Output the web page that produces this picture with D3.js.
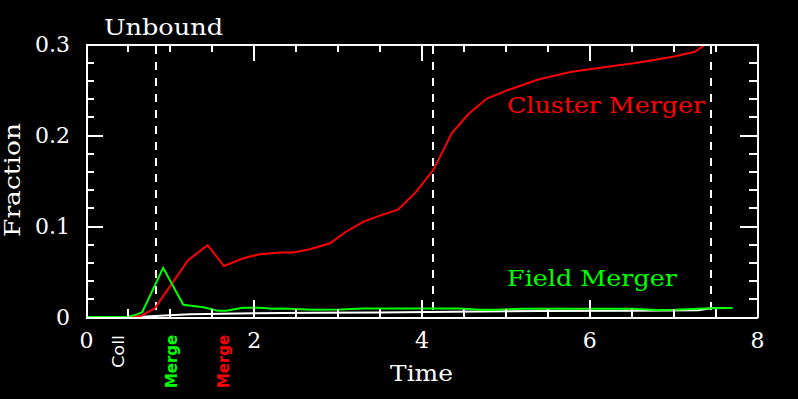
<!DOCTYPE html>
<html>
<head>
<meta charset="utf-8">
<script src="https://cdn.jsdelivr.net/npm/d3@7"></script>
<style>
  body { margin:0; background:#000; }
  text { fill:#fff; }
</style>
</head>
<body>
<div id="viz-container"></div>
<script>
// values
let xMajor = [0, 2, 4, 6, 8];
let yMajor = [0, 0.1, 0.2, 0.3];
let yTickLabels = ["0", "0.1", "0.2", "0.3"];

let redT = [0, 0.49, 0.66, 0.82, 1.22, 1.45, 1.645, 1.875, 2.07, 2.31, 2.47, 2.67, 2.91, 3.10, 3.31, 3.52, 3.72, 3.94, 4.14, 4.21, 4.36, 4.56, 4.78, 5.02, 5.39, 5.79, 6.13, 6.53, 7.0, 7.26, 7.39, 7.5];
let redV = [0, 0, 0.0014, 0.0096, 0.0626, 0.079, 0.056, 0.0645, 0.069, 0.071, 0.071, 0.0744, 0.081, 0.0937, 0.1048, 0.112, 0.118, 0.138, 0.1615, 0.174, 0.2018, 0.223, 0.240, 0.249, 0.261, 0.2696, 0.274, 0.2788, 0.286, 0.2915, 0.300, 0.31];

let greenT = [0, 0.49, 0.6, 0.67, 0.92, 1.16, 1.40, 1.57, 1.67, 1.87, 2.07, 2.23, 2.34, 2.7, 3.03, 3.3, 4.44, 4.7, 4.9, 5.2, 6.52, 6.8, 7.02, 7.45, 7.71];
let greenV = [0, 0, 0.0026, 0.0052, 0.054, 0.0135, 0.0107, 0.0069, 0.0069, 0.0102, 0.0102, 0.0091, 0.0093, 0.0080, 0.0082, 0.0094, 0.0094, 0.0080, 0.0080, 0.0090, 0.0091, 0.0078, 0.0080, 0.0095, 0.0098];

let whiteT = [0, 0.6, 1.0, 1.24, 1.63, 2.0, 2.7, 3.5, 4.37, 5.0, 5.41, 6.5, 7.3, 7.47, 7.68];
let whiteV = [0, 0, 0.002, 0.003, 0.0037, 0.004, 0.0047, 0.005, 0.0058, 0.0062, 0.0066, 0.007, 0.0073, 0.0099, 0.0099];

let markT = [0.83, 4.14, 7.45];

let eventT = [0.45, 1.085, 1.70];
let eventLabels = ["Coll", "Merge", "Merge"];
let eventColors = ["#ffffff", "#00ff00", "#ff0000"];

let W = 798, H = 399;
let mLeft = 86, mRight = 757, mTop = 44, mBottom = 317;

let svg = d3.select("#viz-container")
  .append("svg")
    .attr("width", W)
    .attr("height", H)
    .style("background", "#000")
    .style("display", "block");

let x = d3.scaleLinear().domain([0, 8]).range([mLeft, mRight]);
let y = d3.scaleLinear().domain([0, 0.3]).range([mBottom, mTop]);

svg.append("clipPath").attr("id", "plotclip")
  .append("rect")
    .attr("x", mLeft).attr("y", mTop)
    .attr("width", mRight - mLeft).attr("height", mBottom - mTop);

// dashed markers
svg.selectAll(".mark").data(markT).enter()
  .append("line")
    .attr("class", "mark")
    .attr("x1", d => x(d)).attr("x2", d => x(d))
    .attr("y1", mTop + 2).attr("y2", mBottom)
    .attr("stroke", "#fff")
    .attr("stroke-width", 2)
    .attr("stroke-dasharray", "8,8")
    .attr("shape-rendering", "crispEdges");

// series
function pts(T, V) { return T.map((t, i) => [t, V[i]]); }
let line = d3.line().x(d => x(d[0])).y(d => y(d[1]));

let series = [
  { p: pts(whiteT, whiteV), c: "#ffffff" },
  { p: pts(redT, redV), c: "#ff0000" },
  { p: pts(greenT, greenV), c: "#00ff00" }
];
svg.selectAll(".series").data(series).enter()
  .append("path")
    .attr("class", "series")
    .attr("clip-path", "url(#plotclip)")
    .attr("d", d => line(d.p))
    .attr("fill", "none")
    .attr("stroke", d => d.c)
    .attr("stroke-width", 2);

// axes
function styleAxis(g) {
  g.selectAll("path.domain").attr("stroke", "#fff").attr("stroke-width", 2).attr("shape-rendering", "crispEdges");
  g.selectAll(".tick line").attr("stroke", "#fff").attr("stroke-width", 2).attr("shape-rendering", "crispEdges");
  g.selectAll(".tick text")
    .attr("fill", "#fff")
    .style("font-family", "DejaVu Serif")
    .style("font-size", "22px");
}

svg.append("g").attr("transform", `translate(0,${mBottom})`)
  .call(d3.axisBottom(x).ticks(16).tickSize(-8).tickSizeOuter(0).tickFormat(""))
  .call(styleAxis);
svg.append("g").attr("transform", `translate(0,${mBottom})`)
  .call(d3.axisBottom(x).tickValues(xMajor).tickSize(-17).tickSizeOuter(0).tickPadding(15).tickFormat(d3.format("d")))
  .call(styleAxis);
svg.append("g").attr("transform", `translate(0,${mTop})`)
  .call(d3.axisTop(x).ticks(16).tickSize(-8).tickSizeOuter(0).tickFormat(""))
  .call(styleAxis);
svg.append("g").attr("transform", `translate(0,${mTop})`)
  .call(d3.axisTop(x).tickValues(xMajor).tickSize(-17).tickSizeOuter(0).tickFormat(""))
  .call(styleAxis);

svg.append("g").attr("transform", `translate(${mLeft},0)`)
  .call(d3.axisLeft(y).ticks(15).tickSize(-8).tickSizeOuter(0).tickFormat(""))
  .call(styleAxis);
svg.append("g").attr("transform", `translate(${mLeft},0)`)
  .call(d3.axisLeft(y).tickValues(yMajor).tickSize(-17).tickSizeOuter(0).tickPadding(16).tickFormat((d, i) => yTickLabels[i]))
  .call(styleAxis);
svg.append("g").attr("transform", `translate(${mRight},0)`)
  .call(d3.axisRight(y).ticks(15).tickSize(-8).tickSizeOuter(0).tickFormat(""))
  .call(styleAxis);
svg.append("g").attr("transform", `translate(${mRight},0)`)
  .call(d3.axisRight(y).tickValues(yMajor).tickSize(-17).tickSizeOuter(0).tickFormat(""))
  .call(styleAxis);

// titles
function label(txt, px, py, len, color, rot) {
  let t = svg.append("text")
    .attr("x", px).attr("y", py)
    .attr("textLength", len)
    .attr("lengthAdjust", "spacingAndGlyphs")
    .style("font-family", "DejaVu Serif")
    .style("font-size", "22px")
    .style("fill", color)
    .text(txt);
  if (rot) t.attr("transform", `rotate(-90,${px},${py})`).attr("text-anchor", "middle");
  return t;
}
label("Unbound", 104, 35, 119, "#fff");
label("Cluster Merger", 507, 113, 198, "#ff0000");
label("Field Merger", 507, 286, 170, "#00ff00");
label("Time", 390, 381, 63, "#fff");
label("Fraction", 20, 180, 114, "#fff", true);

// event labels under the axis
svg.selectAll(".event").data(eventT).enter()
  .append("text")
    .attr("class", "event")
    .attr("transform", d => `translate(${x(d)},335) rotate(-90)`)
    .attr("text-anchor", "end")
    .attr("textLength", (d, i) => eventLabels[i] == "Coll" ? 33 : 53)
    .attr("lengthAdjust", "spacingAndGlyphs")
    .style("font-family", "DejaVu Sans")
    .style("font-size", "16px")
    .style("font-weight", (d, i) => eventLabels[i] == "Coll" ? "normal" : "bold")
    .style("fill", (d, i) => eventColors[i])
    .text((d, i) => eventLabels[i]);
</script>
</body>
</html>
